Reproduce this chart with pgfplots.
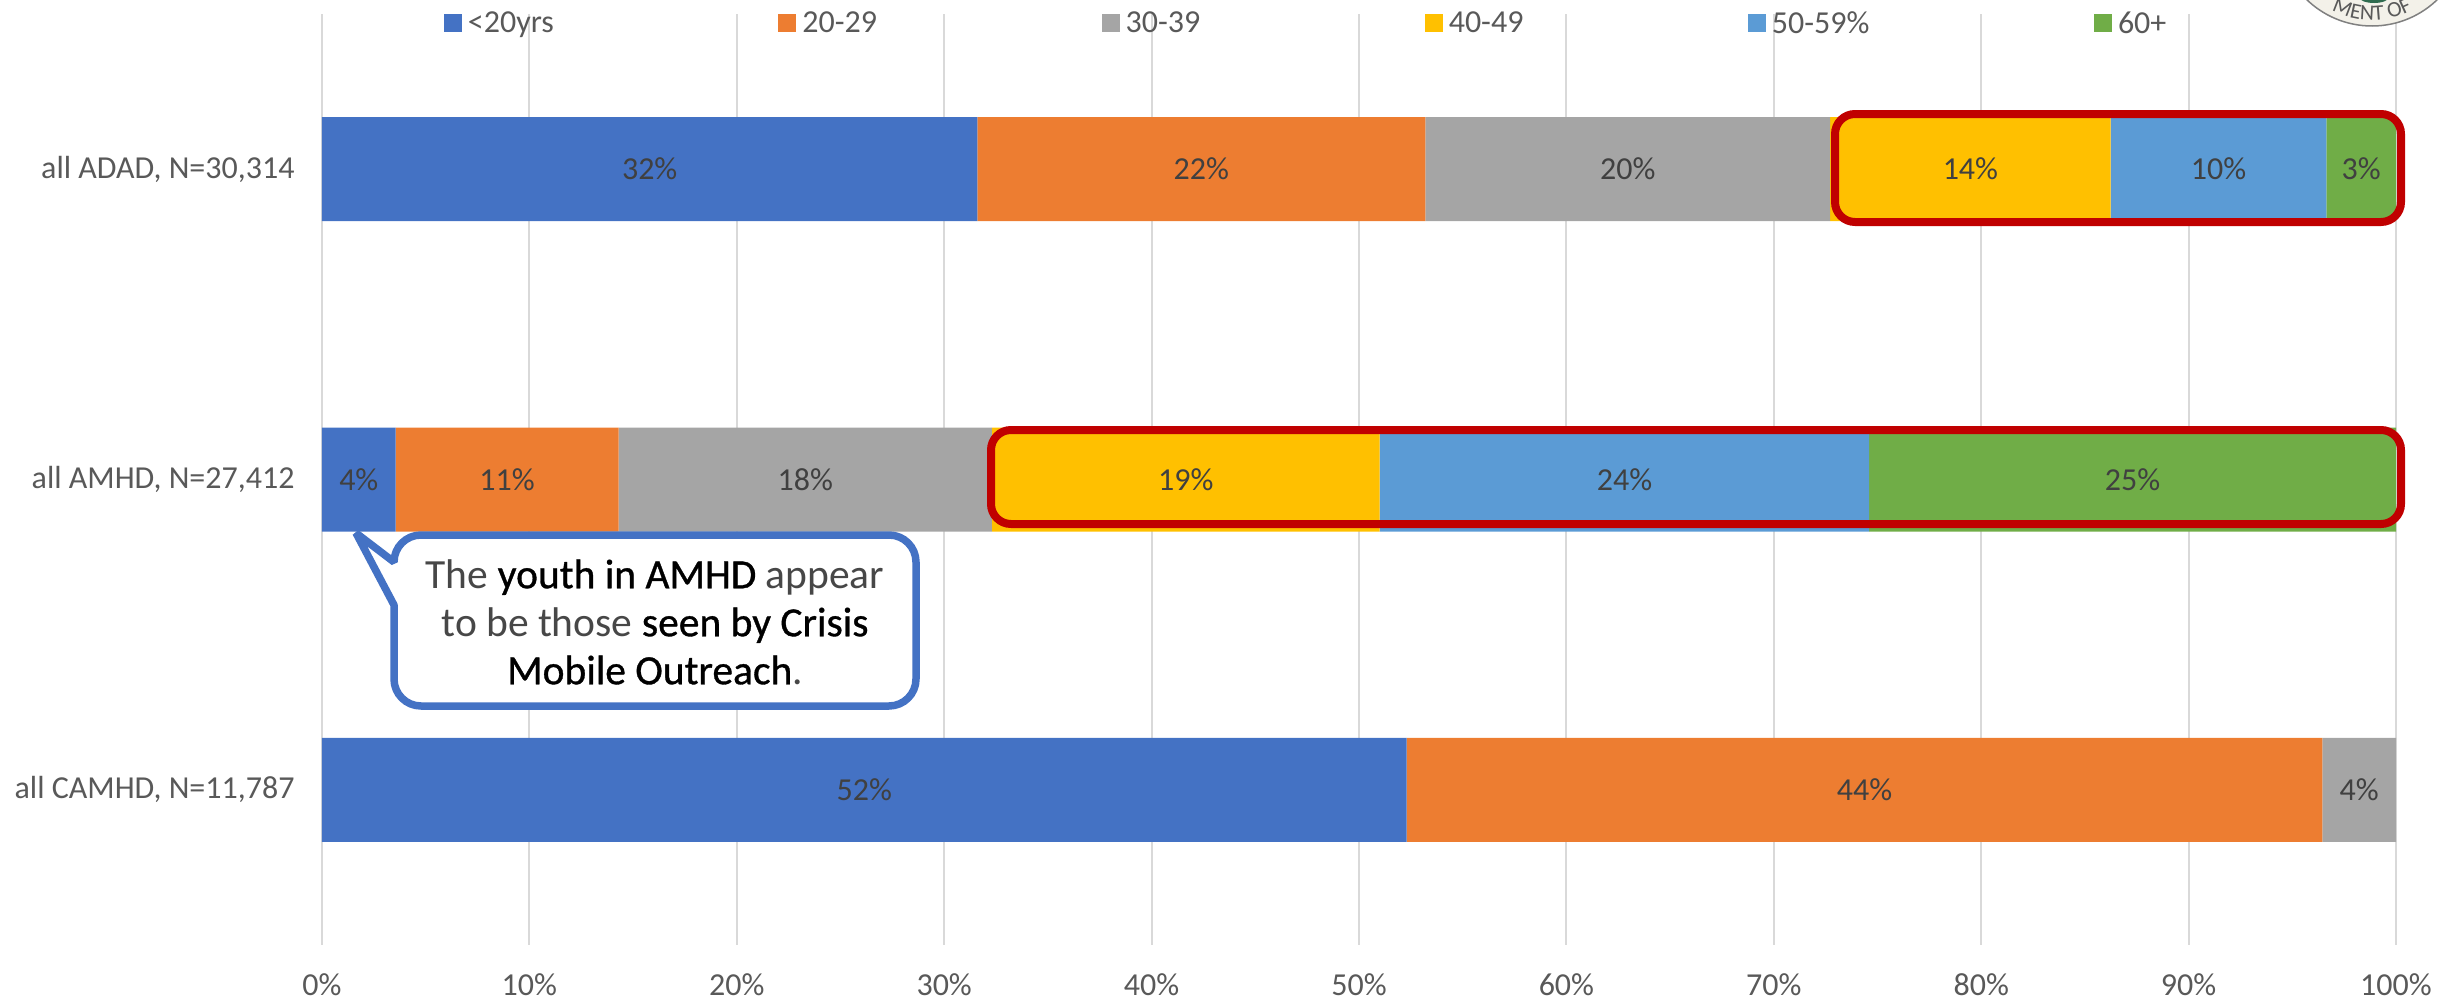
\documentclass[border=0pt]{standalone}
\usepackage{fontspec}
\setmainfont{Carlito}
\newfontfamily\keyfont[FakeBold=0.8]{Carlito}
\usepackage{pgfplots}
\usepackage{pgfplotstable}
\pgfplotsset{compat=1.18}
\usetikzlibrary{decorations.text}

\definecolor{c1}{HTML}{4472C4}
\definecolor{c2}{HTML}{ED7D31}
\definecolor{c3}{HTML}{A5A5A5}
\definecolor{c4}{HTML}{FFC000}
\definecolor{c5}{HTML}{5B9BD5}
\definecolor{c6}{HTML}{70AD47}
\definecolor{gridgray}{HTML}{D9D9D9}
\definecolor{ticktext}{HTML}{595959}
\definecolor{labeltext}{HTML}{404040}
\definecolor{boxred}{HTML}{C00000}
\definecolor{sealcream}{HTML}{F3F1E9}
\definecolor{sealgreen}{HTML}{2F6B4F}

% share of each age group, one row per division
\pgfplotstableread{
idx u20  a20  a30   a40   a50  a60
0   31.6 21.6 19.52 13.52 10.4 3.36
1   3.55 10.75 18.0 18.7  23.6 25.4
2   52.3 44.15 3.55 0     0    0
}\agedata

\newcommand{\lighttext}[1]{{\color{black!72}#1}}
\newcommand{\keytext}[1]{{\keyfont #1}}

\begin{document}
\begin{tikzpicture}[x=1pt,y=1pt]
\useasboundingbox (0,0) rectangle (2453,-1001);
\begin{scope}
\clip (0,0) rectangle (2453,-1001);

\begin{axis}[
  at={(322pt,-945pt)},
  anchor=south west,
  scale only axis,
  width=2074pt,
  height=931pt,
  xbar stacked,
  bar width=104pt,
  xmin=0, xmax=100,
  ymin=-0.5, ymax=2.5,
  y dir=reverse,
  axis line style={draw=none},
  xtick={0,10,...,100},
  ytick={0,1,2},
  yticklabels={{all ADAD, N=30,314},{all AMHD, N=27,412},{all CAMHD, N=11,787}},
  xticklabel={\pgfmathprintnumber{\tick}\%},
  /pgf/number format/assume math mode=true,
  major tick length=0pt,
  xmajorgrids,
  grid style={gridgray,line width=2pt},
  tick label style={font=\fontsize{32}{36}\selectfont,text=ticktext},
  xticklabel style={yshift=-25pt},
  yticklabel style={xshift=-24pt},
  nodes near coords={\pgfmathfloattofixed{\pgfplotspointmeta}\ifdim\pgfmathresult pt>0pt \pgfmathprintnumber[fixed,precision=0,assume math mode=true]{\pgfmathresult}\%\fi},
  every node near coord/.append style={font=\fontsize{32}{36}\selectfont,text=labeltext},
  legend columns=6,
  legend cell align=left,
  legend style={
    draw=none, fill=none, inner sep=0pt, outer sep=0pt,
    at={(0.0588,0.990)}, anchor=west,
    font=\fontsize{32}{36}\selectfont,text=ticktext,
    /tikz/every odd column/.append style={column sep=4pt},
    /tikz/every even column/.append style={column sep=222.5pt},
  },
  legend image code/.code={\path[#1,draw=none] (0pt,-9pt) rectangle (18pt,9pt);},
]
\addplot[fill=c1,draw=none] table[y=idx,x=u20,meta=u20] {\agedata};
\addplot[fill=c2,draw=none] table[y=idx,x=a20,meta=a20] {\agedata};
\addplot[fill=c3,draw=none] table[y=idx,x=a30,meta=a30] {\agedata};
\addplot[fill=c4,draw=none] table[y=idx,x=a40,meta=a40] {\agedata};
\addplot[fill=c5,draw=none] table[y=idx,x=a50,meta=a50] {\agedata};
\addplot[fill=c6,draw=none] table[y=idx,x=a60,meta=a60] {\agedata};
\legend{{<20yrs},{20-29},{30-39},{40-49},{50-59\%},{60+}}
\end{axis}

% red highlight boxes
\draw[boxred,line width=8pt,rounded corners=20pt] (1835,-114) rectangle (2401,-222);
\draw[boxred,line width=8pt,rounded corners=20pt] (991,-430) rectangle (2401,-524);

% callout
\draw[c1,line width=7.5pt,fill=white,line join=bevel]
  (394,-605) -- (356,-533) -- (394,-562) arc[start angle=180,end angle=90,radius=27]
  -- (889,-535) arc[start angle=90,end angle=0,radius=27]
  -- (916,-679) arc[start angle=0,end angle=-90,radius=27]
  -- (421,-706) arc[start angle=-90,end angle=-180,radius=27] -- cycle;
\node[align=center,font=\fontsize{41.5}{48}\selectfont,text=black] at (655,-622)
  {\lighttext{The} \keytext{youth in AMHD} \lighttext{appear}\\\lighttext{to be those} \keytext{seen by Crisis}\\\keytext{Mobile Outreach}\lighttext{.}};

% seal cut off by the top edge
\fill[sealcream] (2372,68) circle[radius=94];
\draw[black!50,line width=1.5pt] (2372,68) circle[radius=94];
\fill[sealgreen] (2374,3) ellipse[x radius=15,y radius=6];
\path[decorate,decoration={text along path,text align=center,
    text={|\fontsize{22}{22}\selectfont\color{black!65}|MENT OF}}]
  (2372,68) ++(235:88) arc[start angle=235,end angle=305,radius=88];
\end{scope}
\end{tikzpicture}
\end{document}
